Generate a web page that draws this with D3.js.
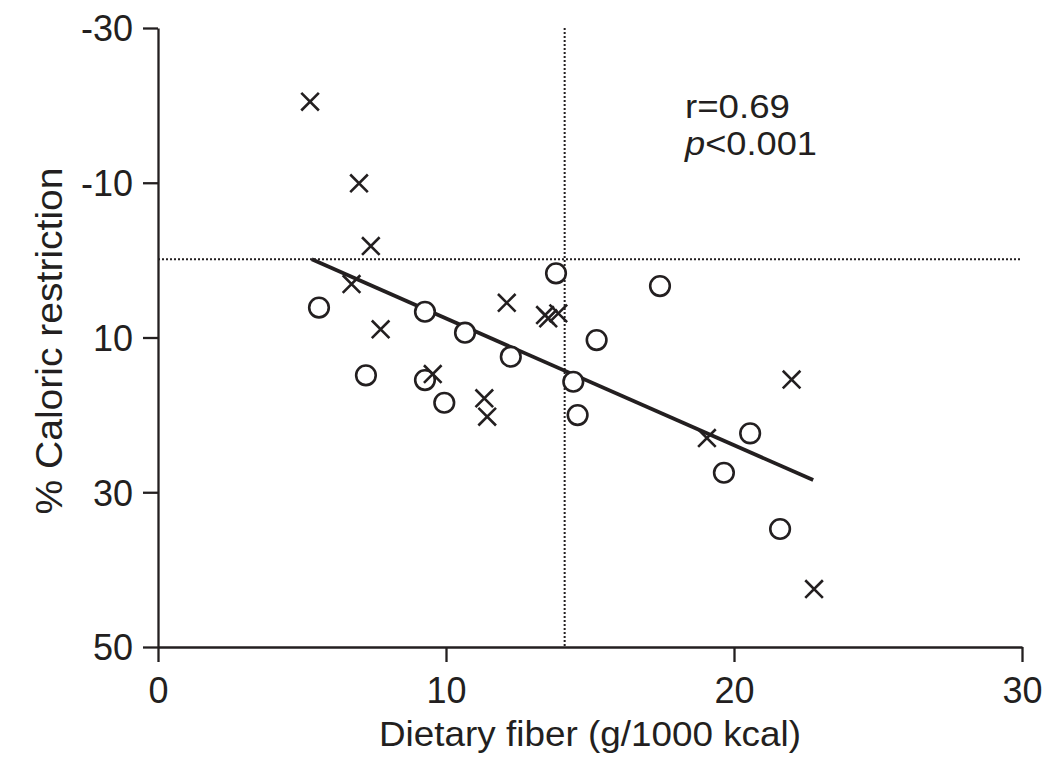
<!DOCTYPE html>
<html>
<head>
<meta charset="utf-8">
<script src="https://cdn.jsdelivr.net/npm/d3@7"></script>
<style>
  html, body { margin: 0; padding: 0; background: #fff; }
  svg { display: block; }
  text { font-family: "Liberation Sans", Arial, Helvetica, sans-serif; fill: #231f20; }
</style>
</head>
<body>
<svg id="chart" width="1050" height="772"></svg>
<script>
// ---- data ----
const crossX = [5.28, 6.98, 7.39, 6.72, 7.73, 9.54, 11.33, 11.43, 12.11, 13.44, 13.55, 13.90, 19.06, 22.00, 22.78];
const crossY = [-20.47, -9.93, -1.82, 3.09, 8.94, 14.72, 17.86, 20.24, 5.51, 7.10, 7.52, 6.88, 22.99, 15.43, 42.51];
const circleX = [5.59, 7.22, 9.27, 9.27, 9.94, 10.66, 12.25, 13.82, 14.42, 14.57, 15.23, 17.43, 19.65, 20.56, 21.60];
const circleY = [6.13, 14.89, 6.67, 15.50, 18.43, 9.38, 12.48, 1.71, 15.72, 20.02, 10.33, 3.35, 27.48, 22.39, 34.75];
const fitX = [5.34, 22.75];
const fitY = [-0.1, 28.42];
const refX = 14.12;   // vertical dotted reference
const refY = -0.1;    // horizontal dotted reference
const xTicks = [0, 10, 20, 30];
const yTicks = [-30, -10, 10, 30, 50];
const xTitle = "Dietary fiber (g/1000 kcal)";
const yTitle = "% Caloric restriction";
const statR = "r=0.69";
const statP = "<0.001";

// ---- layout ----
const ink = "#231f20";
const svg = d3.select("#chart");
const x = d3.scaleLinear().domain([0, 30]).range([158, 1022]);
const y = d3.scaleLinear().domain([-30, 50]).range([28, 647]);

// reference dotted lines
svg.append("line")
  .attr("x1", x(0)).attr("x2", x(30)).attr("y1", y(refY)).attr("y2", y(refY))
  .attr("stroke", ink).attr("stroke-width", 2).attr("stroke-dasharray", "2,2");
svg.append("line")
  .attr("x1", x(refX)).attr("x2", x(refX)).attr("y1", y(-30)).attr("y2", y(50))
  .attr("stroke", ink).attr("stroke-width", 2).attr("stroke-dasharray", "2,2");

// axes
const fmt = d => String(d);
const xAxis = svg.append("g").attr("transform", `translate(0,${y(50)})`)
  .call(d3.axisBottom(x).tickValues(xTicks).tickFormat(fmt).tickSize(15).tickPadding(15).tickSizeOuter(0));
const yAxis = svg.append("g").attr("transform", `translate(${x(0)},0)`)
  .call(d3.axisLeft(y).tickValues(yTicks).tickFormat(fmt).tickSize(15).tickPadding(10).tickSizeOuter(0));
[xAxis, yAxis].forEach(g => {
  g.select(".domain").attr("stroke", ink).attr("stroke-width", 2.3);
  g.selectAll(".tick line").attr("stroke", ink).attr("stroke-width", 2.3);
  g.selectAll(".tick text").attr("font-size", 36).attr("fill", ink)
    .attr("font-family", '"Liberation Sans", Arial, sans-serif');
});
yAxis.selectAll(".tick text").attr("dy", "0.36em");
xAxis.selectAll(".tick text").attr("dy", "0.71em");

// regression line
svg.append("line")
  .attr("x1", x(fitX[0])).attr("y1", y(fitY[0]))
  .attr("x2", x(fitX[1])).attr("y2", y(fitY[1]))
  .attr("stroke", ink).attr("stroke-width", 3.8);

// circles
const circles = circleX.map((v, i) => ({ x: v, y: circleY[i] }));
svg.append("g").selectAll("circle").data(circles).join("circle")
  .attr("cx", d => x(d.x)).attr("cy", d => y(d.y)).attr("r", 9.8)
  .attr("fill", "#fff").attr("stroke", ink).attr("stroke-width", 2.6);

// crosses
const crosses = crossX.map((v, i) => ({ x: v, y: crossY[i] }));
const s = 8.8;
svg.append("g").selectAll("path").data(crosses).join("path")
  .attr("d", d => {
    const cx = x(d.x), cy = y(d.y);
    return `M${cx - s},${cy - s}L${cx + s},${cy + s}M${cx - s},${cy + s}L${cx + s},${cy - s}`;
  })
  .attr("fill", "none").attr("stroke", ink).attr("stroke-width", 2.6);

// axis titles
svg.append("text").attr("x", (x(0) + x(30)) / 2).attr("y", 746)
  .attr("text-anchor", "middle").attr("font-size", 35)
  .attr("textLength", 422).attr("lengthAdjust", "spacingAndGlyphs").text(xTitle);
svg.append("text")
  .attr("transform", `translate(62,341) rotate(-90)`)
  .attr("text-anchor", "middle").attr("font-size", 37)
  .attr("textLength", 347).attr("lengthAdjust", "spacingAndGlyphs").text(yTitle);

// statistics annotation
svg.append("text").attr("x", 685).attr("y", 118).attr("font-size", 33)
  .attr("textLength", 105).attr("lengthAdjust", "spacingAndGlyphs").text(statR);
const pt = svg.append("text").attr("x", 685).attr("y", 155).attr("font-size", 33)
  .attr("textLength", 132).attr("lengthAdjust", "spacingAndGlyphs");
pt.append("tspan").attr("font-style", "italic").text("p");
pt.append("tspan").text(statP);
</script>
</body>
</html>
